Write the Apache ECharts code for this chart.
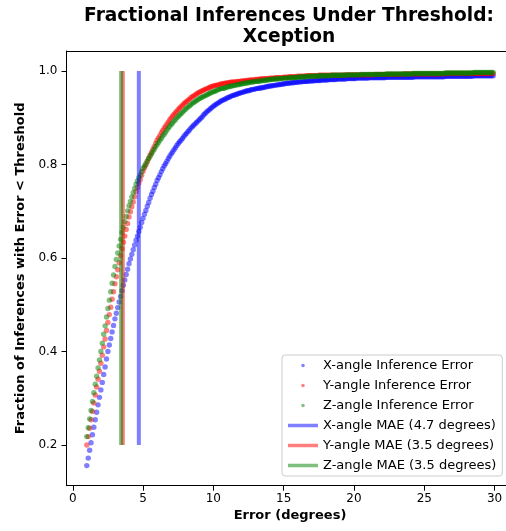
<!DOCTYPE html>
<html><head><meta charset="utf-8">
<script src="https://cdn.jsdelivr.net/npm/echarts@6/dist/echarts.min.js"></script>
<style>html,body{margin:0;padding:0;background:#fff}#c{width:506px;height:531px}</style>
</head><body><div id="c"></div>
<script>
// thresholds: 1.0, 1.1, ... 29.9 (degrees)
const thresholdStart = 1.0;
const thresholdStep = 0.1;
const thresholdCount = 290;

const xAngleFrac = [
.156,.172,.189,.205,.222, .238,.254,.270,.286,.302,
.318,.334,.351,.367,.384, .400,.414,.428,.442,.456,
.470,.482,.494,.506,.518, .530,.542,.553,.565,.576,
.588,.598,.608,.618,.628, .638,.647,.657,.666,.676,
.685,.694,.702,.711,.719, .728,.736,.743,.751,.758,
.766,.772,.778,.785,.791, .797,.802,.807,.813,.818,
.823,.827,.832,.836,.841, .845,.849,.852,.856,.860,
.864,.867,.871,.874,.878, .881,.884,.887,.890,.893,
.896,.899,.902,.906,.909, .912,.915,.917,.920,.922,
.925,.927,.929,.931,.933, .935,.937,.938,.940,.941,
.943,.944,.945,.947,.948, .949,.950,.951,.952,.953,
.954,.955,.956,.957,.958, .958,.959,.960,.961,.961,
.962,.963,.963,.964,.964, .965,.965,.966,.967,.967,
.968,.968,.969,.969,.970, .970,.971,.971,.972,.972,
.973,.973,.974,.974,.974, .975,.975,.975,.976,.976,
.976,.977,.977,.977,.978, .978,.978,.978,.979,.979,
.979,.979,.980,.980,.980, .980,.980,.981,.981,.981,
.981,.981,.982,.982,.982, .982,.982,.982,.983,.983,
.983,.983,.983,.983,.983, .984,.984,.984,.984,.984,
.984,.984,.985,.985,.985, .985,.985,.985,.985,.985,
.985,.986,.986,.986,.986,.986,.986,.986,.986,.986,
.986,.986,.986,.987,.987,.987,.987,.987,.987,.987,
.987,.987,.987,.987,.987,.987,.987,.987,.987,.987,
.987,.987,.987,.988,.988,.988,.988,.988,.988,.988,
.988,.988,.988,.988,.988,.988,.988,.988,.988,.988,
.988,.988,.988,.988,.988,.989,.989,.989,.989,.989,
.989,.989,.989,.989,.989,.989,.989,.989,.989,.989,
.989,.989,.989,.989,.989,.990,.990,.990,.990,.990,
.990,.990,.990,.990,.990,.990,.990,.990,.990,.990
];

const yAngleFrac = [
.200,.218,.236,.254,.272, .290,.307,.324,.341,.358,
.375,.392,.410,.427,.445, .462,.479,.495,.512,.528,
.545,.560,.575,.590,.605, .620,.634,.647,.661,.674,
.688,.699,.710,.720,.731, .742,.751,.760,.768,.777,
.786,.793,.799,.806,.813, .820,.826,.833,.839,.846,
.852,.857,.862,.868,.873, .878,.882,.887,.891,.896,
.900,.904,.907,.911,.914, .918,.921,.924,.927,.930,
.933,.935,.938,.940,.943, .945,.947,.949,.951,.953,
.955,.956,.958,.959,.961, .962,.963,.965,.966,.967,
.968,.969,.970,.970,.971, .972,.973,.973,.974,.974,
.975,.975,.976,.976,.977, .977,.977,.978,.978,.978,
.979,.979,.979,.980,.980, .980,.981,.981,.981,.981,
.982,.982,.982,.983,.983, .983,.984,.984,.984,.984,
.985,.985,.985,.985,.986, .986,.986,.986,.986,.986,
.987,.987,.987,.987,.988, .988,.988,.988,.988,.988,
.989,.989,.989,.989,.989,.989,.990,.990,.990,.990,
.990,.990,.990,.990,.990,.991,.991,.991,.991,.991,
.991,.991,.991,.991,.991,.991,.991,.991,.991,.991,
.991,.991,.991,.992,.992,.992,.992,.992,.992,.992,
.992,.992,.992,.992,.992,.992,.992,.992,.992,.992,
.992,.992,.992,.992,.992,.993,.993,.993,.993,.993,
.993,.993,.993,.993,.993,.993,.993,.993,.993,.993,
.993,.993,.993,.993,.993,.994,.994,.994,.994,.994,
.994,.994,.994,.994,.994,.994,.994,.994,.994,.994,
.994,.994,.994,.994,.994,.994,.994,.994,.994,.994,
.994,.994,.994,.994,.994,.995,.995,.995,.995,.995,
.995,.995,.995,.995,.995,.995,.995,.995,.995,.995,
.995,.995,.995,.995,.995,.995,.995,.995,.995,.995,
.995,.995,.995,.995,.995,.995,.995,.995,.995,.995
];

const zAngleFrac = [
.218,.237,.256,.274,.293, .312,.330,.347,.365,.382,
.400,.418,.437,.455,.474, .492,.510,.528,.546,.564,
.582,.597,.611,.626,.640, .655,.666,.678,.689,.701,
.712,.721,.731,.740,.749, .758,.765,.772,.778,.785,
.792,.797,.802,.808,.813, .818,.823,.828,.833,.838,
.843,.847,.852,.856,.861, .865,.869,.874,.878,.882,
.886,.889,.893,.896,.900, .903,.906,.909,.912,.915,
.918,.921,.923,.926,.928, .931,.933,.935,.937,.939,
.941,.943,.944,.946,.947, .949,.950,.952,.953,.955,
.956,.957,.958,.960,.961, .962,.963,.963,.964,.965,
.966,.967,.967,.968,.969, .969,.970,.971,.971,.972,
.973,.973,.974,.974,.975, .975,.976,.976,.977,.977,
.978,.978,.978,.979,.979, .980,.980,.980,.981,.981,
.982,.982,.982,.983,.983, .983,.983,.984,.984,.984,
.985,.985,.985,.985,.986, .986,.986,.986,.986,.987,
.987,.987,.987,.988,.988,.988,.988,.988,.989,.989,
.989,.989,.989,.989,.989,.990,.990,.990,.990,.990,
.990,.990,.990,.990,.991,.991,.991,.991,.991,.991,
.991,.991,.991,.991,.991,.992,.992,.992,.992,.992,
.992,.992,.992,.992,.992,.993,.993,.993,.993,.993,
.993,.993,.993,.993,.993,.993,.993,.993,.993,.993,
.993,.993,.993,.994,.994,.994,.994,.994,.994,.994,
.994,.994,.994,.994,.994,.994,.994,.994,.994,.994,
.994,.994,.995,.995,.995,.995,.995,.995,.995,.995,
.995,.995,.995,.995,.995,.995,.995,.995,.995,.995,
.995,.995,.995,.995,.995,.996,.996,.996,.996,.996,
.996,.996,.996,.996,.996,.996,.996,.996,.996,.996,
.996,.996,.996,.996,.996,.997,.997,.997,.997,.997,
.997,.997,.997,.997,.997,.997,.997,.997,.997,.997
];

const scatterNames = ['X-angle Inference Error', 'Y-angle Inference Error', 'Z-angle Inference Error'];
const maeNames = ['X-angle MAE (4.7 degrees)', 'Y-angle MAE (3.5 degrees)', 'Z-angle MAE (3.5 degrees)'];
const maeValues = [4.7, 3.56, 3.44];
const maeLineSpan = [0.2, 1.0];
const xTickValues = [0, 5, 10, 15, 20, 25, 30];
const yTickValues = [0.2, 0.4, 0.6, 0.8, 1.0];
const xRange = [-0.445, 31.345];
const yRange = [0.113, 1.043];
const titleText = 'Fractional Inferences Under Threshold:\nXception';
const xAxisTitle = 'Error (degrees)';
const yAxisTitle = 'Fraction of Inferences with Error < Threshold';

const colors = ['#0000ff', '#ff0000', '#008000'];
const FONT = 'DejaVu Sans';

const thresholds = [];
for (let i = 0; i < thresholdCount; i++) thresholds.push(Number((thresholdStart + i * thresholdStep).toFixed(1)));
const fracs = [xAngleFrac, yAngleFrac, zAngleFrac];

const series = [];
fracs.forEach((arr, k) => {
  series.push({
    name: scatterNames[k], type: 'scatter', symbol: 'circle', symbolSize: 5.4,
    itemStyle: { color: colors[k], opacity: 0.5 },
    data: arr.map((v, i) => [thresholds[i], v]),
    z: 2, silent: true
  });
});
maeValues.forEach((m, k) => {
  series.push({
    name: maeNames[k], type: 'line', symbol: 'none', showSymbol: false,
    lineStyle: { color: colors[k], width: 4, opacity: 0.5 },
    itemStyle: { color: colors[k], opacity: 0.5 },
    data: [[m, maeLineSpan[0]], [m, maeLineSpan[1]]],
    z: 3, silent: true
  });
});

const chart = echarts.init(document.getElementById('c'), null, { renderer: 'canvas' });
chart.setOption({
  animation: false,
  backgroundColor: '#fff',
  graphic: [{
    type: 'text', x: 289, y: 5.5, z: 10,
    style: { text: titleText, textAlign: 'center', textVerticalAlign: 'top',
      font: 'bold 18.6px "DejaVu Sans"', lineHeight: 21, fill: '#000' }
  }, {
    type: 'rect', z: 50, silent: true,
    shape: { x: 503, y: 52, width: 4, height: 433 },
    style: { fill: '#fff' }
  }],
  grid: { left: 66.5, top: 51, width: 447, height: 434.7, show: false, containLabel: false, outerBoundsMode: 'none' },
  legend: {
    orient: 'vertical', left: 282, top: 355, z: 60,
    itemWidth: 30, itemHeight: 3.5, itemGap: 7,
    padding: [4, 6, 4, 6],
    backgroundColor: 'rgba(255,255,255,0.8)', borderColor: '#cccccc', borderWidth: 1, borderRadius: 3,
    textStyle: { fontFamily: FONT, fontSize: 13, color: '#000' },
    selectedMode: false,
    data: scatterNames.map((n, k) => ({ name: n, icon: 'circle', itemStyle: { color: colors[k], opacity: 0.5 } }))
      .concat(maeNames.map((n, k) => ({ name: n, icon: 'rect', itemStyle: { color: colors[k], opacity: 0.5 } })))
  },
  xAxis: [{
    type: 'value', min: xRange[0], max: xRange[1],
    name: xAxisTitle, nameLocation: 'middle', nameGap: 21,
    nameTextStyle: { fontFamily: FONT, fontSize: 13, fontWeight: 'bold', color: '#000' },
    axisLine: { show: true, onZero: false, lineStyle: { color: '#000', width: 1 } },
    axisTick: { show: true, inside: false, length: 5, customValues: xTickValues, lineStyle: { color: '#000' } },
    axisLabel: { customValues: xTickValues, margin: 7, fontFamily: FONT, fontSize: 12, color: '#000' },
    splitLine: { show: false }
  }, {
    type: 'value', position: 'top', min: xRange[0], max: xRange[1],
    axisLine: { show: true, onZero: false, lineStyle: { color: '#000', width: 1 } },
    axisTick: { show: false }, axisLabel: { show: false }, splitLine: { show: false }
  }],
  yAxis: {
    type: 'value', min: yRange[0], max: yRange[1],
    name: yAxisTitle, nameLocation: 'middle', nameGap: 33,
    nameTextStyle: { fontFamily: FONT, fontSize: 13, fontWeight: 'bold', color: '#000' },
    axisLine: { show: true, onZero: false, lineStyle: { color: '#000', width: 1 } },
    axisTick: { show: true, inside: false, length: 5, customValues: yTickValues, lineStyle: { color: '#000' } },
    axisLabel: { customValues: yTickValues, margin: 9, fontFamily: FONT, fontSize: 12, color: '#000',
      formatter: v => v.toFixed(1) },
    splitLine: { show: false }
  },
  series: series
});
</script></body></html>
